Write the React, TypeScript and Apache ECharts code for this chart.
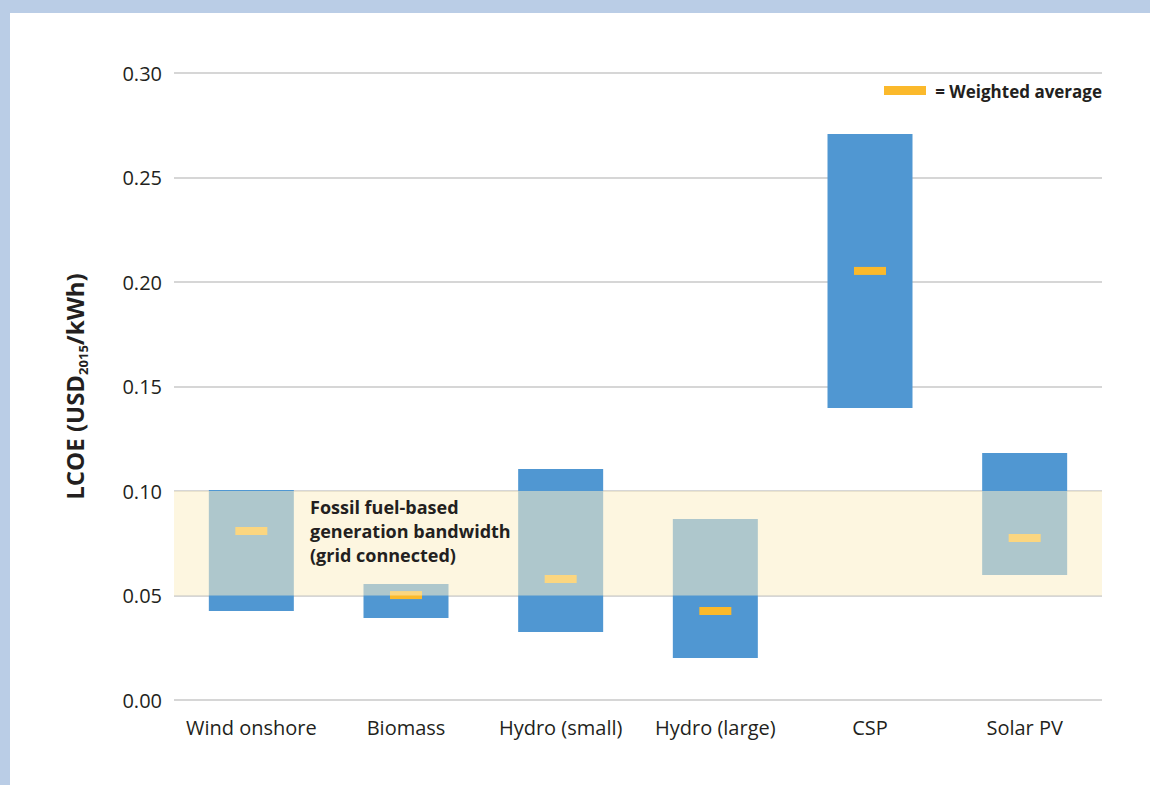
import React, { useEffect, useRef } from "react";
import * as echarts from "echarts";

const categories = ["Wind onshore", "Biomass", "Hydro (small)", "Hydro (large)", "CSP", "Solar PV"];
const lowValues = [0.0426, 0.0392, 0.0325, 0.0201, 0.1397, 0.0598];
const highValues = [0.1005, 0.0555, 0.1105, 0.0866, 0.2708, 0.1182];
const weightedAvg = [0.0809, 0.0502, 0.0579, 0.0426, 0.2053, 0.0775];
const fossilBand = [0.05, 0.1];
const yTicks = { min: 0, max: 0.3, interval: 0.05 };

const FONT = "'Open Sans', 'Noto Sans', sans-serif";

export default function App() {
  const ref = useRef<HTMLDivElement>(null);
  useEffect(() => {
    if (!ref.current) return;
    const chart = echarts.init(ref.current, null, { renderer: "svg" });
    const rangeValues = highValues.map((h, i) => +(h - lowValues[i]).toFixed(4));
    chart.setOption({
      animation: false,
      backgroundColor: "#ffffff",
      grid: { left: 164, right: 48, top: 60, bottom: 85 },
      xAxis: {
        type: "category",
        data: categories,
        axisLine: { show: false },
        axisTick: { show: false },
        axisLabel: { color: "#231f20", fontSize: 20, fontFamily: FONT, margin: 17, interval: 0 },
      },
      yAxis: {
        type: "value",
        min: yTicks.min,
        max: yTicks.max,
        interval: yTicks.interval,
        axisLine: { show: false },
        axisTick: { show: false },
        splitLine: { lineStyle: { color: "#d6d6d6", width: 2 } },
        axisLabel: {
          color: "#231f20",
          fontSize: 20,
          fontFamily: FONT,
          margin: 12,
          formatter: (v: number) => v.toFixed(2),
        },
        name: "{a|LCOE (USD}{s|2015}{a|/kWh)}",
        nameLocation: "middle",
        nameRotate: 90,
        nameGap: 85,
        nameTextStyle: {
          rich: {
            a: { fontSize: 24, fontWeight: "bold", color: "#231f20", fontFamily: FONT, lineHeight: 30 },
            s: { fontSize: 13, fontWeight: "bold", color: "#231f20", fontFamily: FONT, lineHeight: 30, verticalAlign: "bottom" },
          },
        },
      },
      series: [
        {
          type: "bar",
          stack: "r",
          data: lowValues,
          barWidth: 85,
          itemStyle: { color: "transparent" },
          silent: true,
          z: 2,
        },
        {
          type: "bar",
          stack: "r",
          data: rangeValues,
          barWidth: 85,
          itemStyle: { color: "#5097d2" },
          z: 2,
        },
        {
          type: "scatter",
          data: weightedAvg,
          symbol: "rect",
          symbolSize: [32, 8],
          itemStyle: { color: "#fbb92b", opacity: 1 },
          z: 4,
        },
        {
          type: "custom",
          data: [[0, fossilBand[0], fossilBand[1]]],
          z: 6,
          silent: true,
          renderItem: (params: any, api: any) => {
            const cs = params.coordSys;
            const top = api.coord([0, api.value(2)])[1];
            const bottom = api.coord([0, api.value(1)])[1];
            return {
              type: "rect",
              shape: { x: cs.x, y: top, width: cs.width, height: bottom - top },
              style: { fill: "rgba(251,239,199,0.55)" },
            };
          },
        },
      ],
      graphic: [
        {
          type: "rect",
          shape: { x: 874, y: 73, width: 42, height: 9 },
          style: { fill: "#fbb92b" },
          z: 10,
        },
        {
          type: "text",
          x: 1092,
          y: 78,
          style: {
            text: "= Weighted average",
            align: "right",
            verticalAlign: "middle",
            fontSize: 17,
            fontWeight: "bold",
            fontFamily: FONT,
            fill: "#231f20",
          },
          z: 10,
        },
        {
          type: "text",
          x: 300,
          y: 482,
          style: {
            text: "Fossil fuel-based\ngeneration bandwidth\n(grid connected)",
            fontSize: 18,
            lineHeight: 24,
            fontWeight: "bold",
            fontFamily: FONT,
            fill: "#231f20",
          },
          z: 10,
        },
      ],
    });
    return () => chart.dispose();
  }, []);
  return (
    <div style={{ position: "fixed", left: 0, top: 0, width: 1150, height: 785, background: "#bacde6" }}>
      <div
        ref={ref}
        style={{ position: "absolute", left: 10, top: 13, width: 1140, height: 772, background: "#ffffff" }}
      />
    </div>
  );
}
